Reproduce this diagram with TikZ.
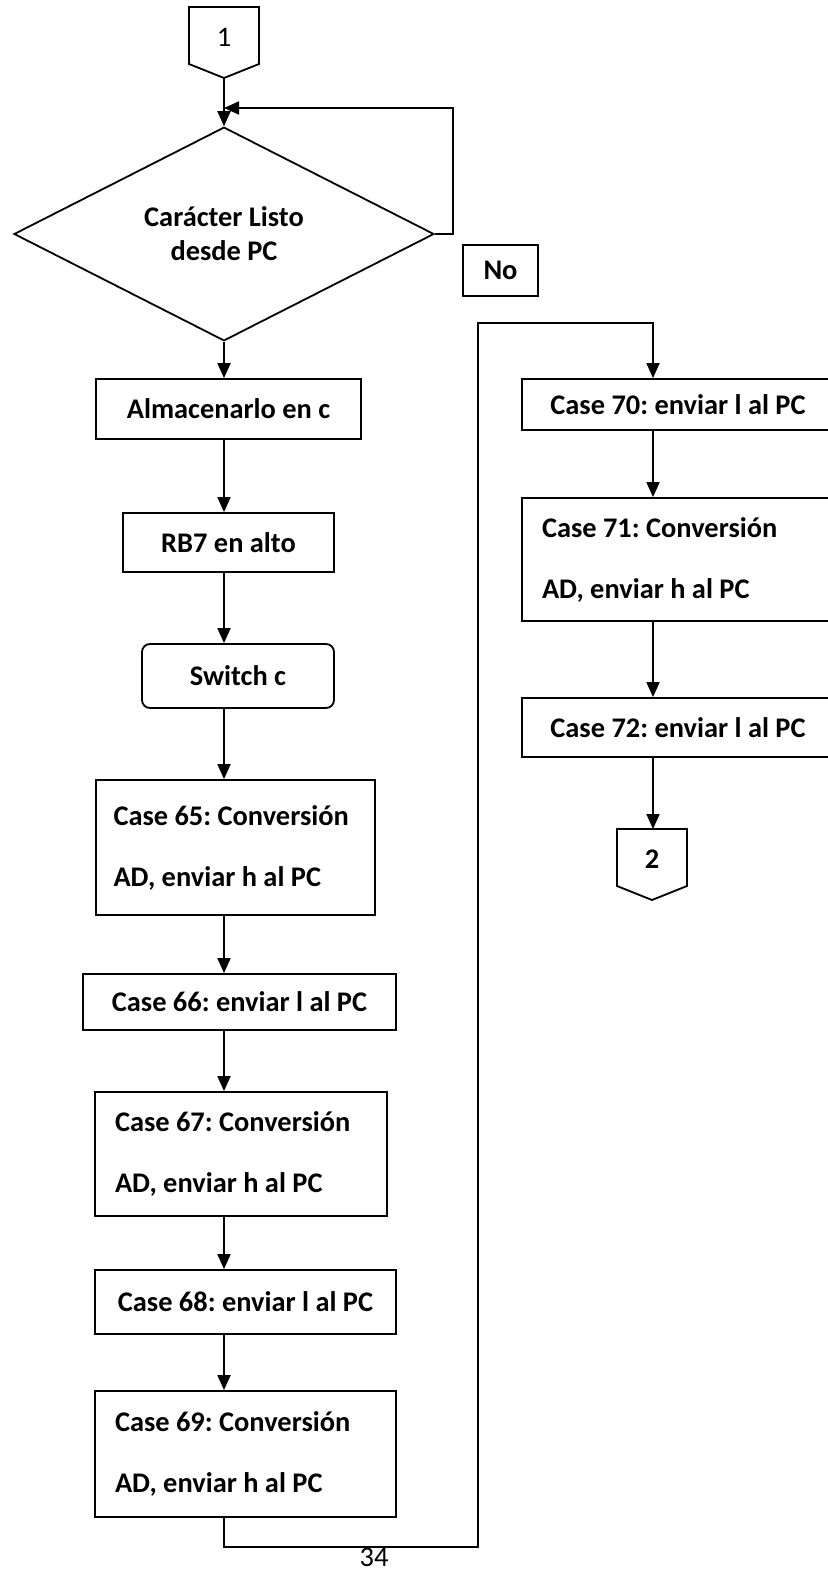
\documentclass[tikz,border=0pt]{standalone}
\usepackage{fontspec}
\setmainfont{Carlito}
\frenchspacing
\usepackage{tikz}
\usetikzlibrary{arrows.meta,shapes.geometric}
\newcommand{\drawflow}{\draw[flowline]}
\newcommand{\drawoffpage}[4]{
    \draw[line width=0.9pt] (#2-35,#3)--++(70,0)--++(0,57)--++(-35,14)--++(-35,-14)--cycle;
    \node (#1) at (#2,#3+30) {#4};
    \coordinate (#1top) at (#2,#3);
    \coordinate (#1tip) at (#2,#3+71);
}
\tikzset{
  flowbox/.style={draw, line width=0.9pt, inner sep=0pt, font=\bfseries\fontsize{14.2}{17}\selectfont},
  casebox/.style={flowbox, align=flush left, font=\bfseries\fontsize{14.2}{30.5}\selectfont},
  decbox/.style={flowbox, diamond, align=center},
  flowline/.style={line width=0.9pt, -{Triangle[length=7.5pt,width=6.5pt]}}
}

\begin{document}
\begin{tikzpicture}[x=0.5pt,y=-0.5pt,font=\fontsize{14.2}{17}\selectfont]
\useasboundingbox (0,0) rectangle (828,1573);
\coordinate (spine) at (224,0);
\coordinate (rspine) at (653,0);
\drawoffpage{con1}{224}{7}{1}
\node[decbox, minimum width=210pt, minimum height=99pt] (dec) at (224,234) {Carácter Listo\\desde PC};
\node[flowbox, minimum width=37.5pt, minimum height=25.5pt] (no) at (500.5,270.5) {No};
\node[flowbox, minimum width=132.5pt, minimum height=30pt] (alm) at (228.5,409) {Almacenarlo en c};
\node[flowbox, minimum width=105.5pt, minimum height=29.5pt] (rb7) at (228.5,542.5) {RB7 en alto};
\node[flowbox, rounded corners=4pt, minimum width=96pt, minimum height=32pt] (sw) at (238,676) {Switch c};
\node[casebox, minimum width=139.5pt, minimum height=67.5pt, text width=122pt] (c65) at (235.5,847.5) {Case 65: Conversión\\AD, enviar h al PC};
\node[flowbox, minimum width=156.5pt, minimum height=28pt] (c66) at (239.5,1002) {Case 66: enviar l al PC};
\node[casebox, minimum width=146pt, minimum height=62pt, text width=126pt] (c67) at (241,1154) {Case 67: Conversión\\AD, enviar h al PC};
\node[flowbox, minimum width=150.5pt, minimum height=32pt] (c68) at (245.5,1302) {Case 68: enviar l al PC};
\node[casebox, minimum width=150.5pt, minimum height=63pt, text width=130.5pt] (c69) at (245.5,1454) {Case 69: Conversión\\AD, enviar h al PC};
\node[flowbox, minimum width=156pt, minimum height=25.5pt] (c70) at (678,404.5) {Case 70: enviar l al PC};
\node[casebox, minimum width=156pt, minimum height=61.5pt, text width=136pt] (c71) at (678,559.5) {Case 71: Conversión\\AD, enviar h al PC};
\node[flowbox, minimum width=156pt, minimum height=29.5pt] (c72) at (678,727.5) {Case 72: enviar l al PC};
\drawoffpage{con2}{652}{829}{\bfseries 2}
\node (pagenum) at (374,1557) {34};
% connectors
\coordinate (merge) at (224,108);
\coordinate (lowturn) at (478,1547);
\coordinate (highturn) at (478,323);
\drawflow (con1tip) -- (dec.north);
\drawflow (dec.east) -- ++(18,0) |- (merge);
\drawflow (dec.south) -- (alm.north -| spine);
\drawflow (alm.south -| spine) -- (rb7.north -| spine);
\drawflow (rb7.south -| spine) -- (sw.north -| spine);
\drawflow (sw.south -| spine) -- (c65.north -| spine);
\drawflow (c65.south -| spine) -- (c66.north -| spine);
\drawflow (c66.south -| spine) -- (c67.north -| spine);
\drawflow (c67.south -| spine) -- (c68.north -| spine);
\drawflow (c68.south -| spine) -- (c69.north -| spine);
\drawflow (c69.south -| spine) |- (lowturn) -- (highturn) -| (c70.north -| rspine);
\drawflow (c70.south -| rspine) -- (c71.north -| rspine);
\drawflow (c71.south -| rspine) -- (c72.north -| rspine);
\drawflow (c72.south -| rspine) -- (con2top -| rspine);
\end{tikzpicture}
\end{document}
